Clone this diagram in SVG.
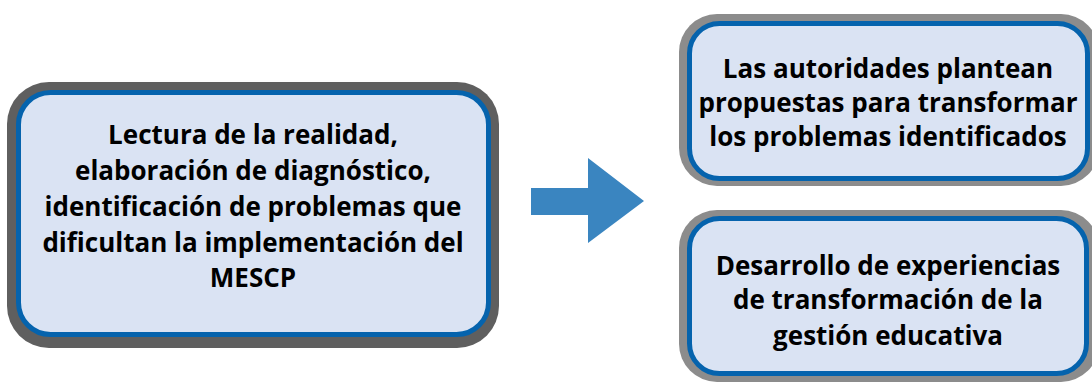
<svg xmlns="http://www.w3.org/2000/svg" width="1092" height="384" viewBox="0 0 1092 384">
<style>
.box{fill:#dae3f3;stroke:#0563ad;stroke-width:5}
.t{font-family:"Open Sans","Noto Sans","Liberation Sans",sans-serif;font-weight:bold;font-size:26px;fill:#000;text-anchor:middle}
</style>
<rect width="1092" height="384" fill="#fff"/>
<g id="node-left">
<rect x="7" y="82" width="492" height="266" rx="42" fill="#5f5f5f"/>
<rect class="box" x="18.5" y="92.5" width="470" height="242" rx="32"/>
<text class="t" x="253" y="144">Lectura de la realidad,</text>
<text class="t" x="253" y="180">elaboración de diagnóstico,</text>
<text class="t" x="253" y="216">identificación de problemas que</text>
<text class="t" x="253" y="252">dificultan la implementación del</text>
<text class="t" x="253" y="287">MESCP</text>
</g>
<g id="node-top-right">
<rect x="679" y="14" width="420" height="172" rx="38" fill="#8c8c8c"/>
<rect class="box" x="689.5" y="23.5" width="398" height="155" rx="30"/>
<text class="t" x="888" y="78">Las autoridades plantean</text>
<text class="t" x="888" y="112">propuestas para transformar</text>
<text class="t" x="888" y="146">los problemas identificados</text>
</g>
<g id="node-bottom-right">
<rect x="679" y="210" width="420" height="172" rx="38" fill="#8c8c8c"/>
<rect class="box" x="689.5" y="218.5" width="397" height="155" rx="30"/>
<text class="t" x="888" y="275">Desarrollo de experiencias</text>
<text class="t" x="888" y="309">de transformación de la</text>
<text class="t" x="888" y="345">gestión educativa</text>
</g>
<g id="connectors">
<polygon points="531,188 588,188 588,158 644,201 588,243 588,215 531,215" fill="#3a85c0"/>
</g>
</svg>
